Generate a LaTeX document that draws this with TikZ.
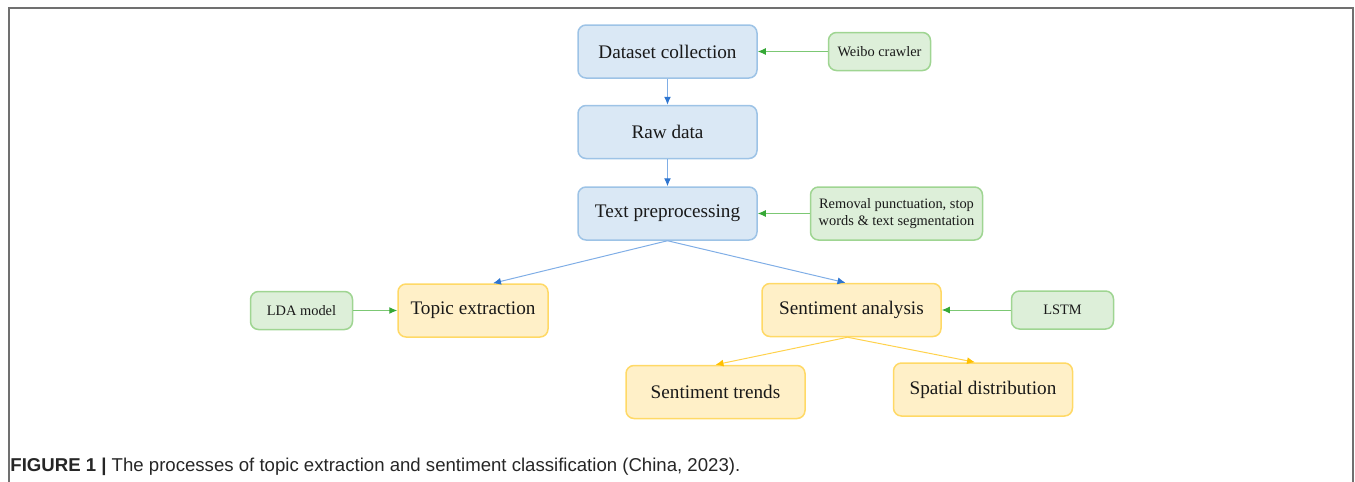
\documentclass[tikz,border=0pt]{standalone}
\usepackage{fontspec}
\setmainfont{Liberation Serif}
\newfontfamily\capfont{Liberation Sans}
\usetikzlibrary{positioning,arrows.meta}

\definecolor{bluefill}{HTML}{DAE8F5}
\definecolor{blueline}{HTML}{9DC3E6}
\definecolor{bluearrow}{HTML}{2E75D0}
\definecolor{bluelink}{HTML}{80AEE6}
\definecolor{greenfill}{HTML}{DDEFD9}
\definecolor{greenline}{HTML}{9FD592}
\definecolor{greenarrow}{HTML}{36A836}
\definecolor{greenlink}{HTML}{7CC874}
\definecolor{yellowfill}{HTML}{FFF0C8}
\definecolor{yellowline}{HTML}{FFD966}
\definecolor{yellowarrow}{HTML}{FFC000}
\definecolor{yellowlink}{HTML}{FFD24D}
\definecolor{framegray}{HTML}{707070}

\begin{document}
\begin{tikzpicture}[
    x=0.5pt, y=-0.5pt,
    stepblue/.style={rectangle, rounded corners=4pt, draw=blueline, line width=0.75pt, fill=bluefill, minimum width=89.5pt, minimum height=26.5pt, align=center, font=\fontsize{9.6}{11}\selectfont, text=black!90},
    tool/.style={rectangle, rounded corners=4pt, draw=greenline, line width=0.75pt, fill=greenfill, minimum width=51pt, minimum height=19pt, align=center, font=\fontsize{7.2}{8.6}\selectfont, text=black!90},
    result/.style={rectangle, rounded corners=4pt, draw=yellowline, line width=0.75pt, fill=yellowfill, minimum width=89.5pt, minimum height=26.5pt, align=center, font=\fontsize{9.6}{11}\selectfont, text=black!90},
    bluearr/.style={-{Latex[length=4pt,width=3.5pt,color=bluearrow]}, draw=bluelink, line width=0.5pt},
    greenarr/.style={-{Latex[length=4pt,width=3.5pt,color=greenarrow]}, draw=greenlink, line width=0.5pt},
    yellowarr/.style={-{Latex[length=4pt,width=3.5pt,color=yellowarrow]}, draw=yellowlink, line width=0.5pt},
    node distance=13pt
]
\useasboundingbox (0,0) rectangle (1355,482);

% frame
\draw[framegray, line width=0.75pt] (9,482) |- (1353,8) -- (1353,482);

% main column
\node[stepblue] (dataset) at (667.5,51.5) {Dataset collection};
\node[stepblue, below=of dataset] (raw) {Raw data};
\node[stepblue, below=13.5pt of raw] (prep) {Text preprocessing};
\node[tool, right=35pt of dataset] (weibo) {Weibo crawler};
\node[tool, right=26pt of prep, minimum width=86pt, minimum height=26.5pt] (removal) {Removal punctuation, stop\\words \& text segmentation};

% branches
\node[result, minimum width=75pt] (topic) at (473,310.5) {Topic extraction};
\node[tool, left=22pt of topic] (lda) {LDA model};
\node[result] (senti) at (851.5,310) {Sentiment analysis};
\node[tool, right=34.5pt of senti] (lstm) {LSTM};
\node[result] (trends) at (715.5,392) {Sentiment trends};
\node[result] (spatial) at (983,389.5) {Spatial distribution};

% connectors
\draw[greenarr] (weibo) -- (dataset);
\draw[bluearr] (dataset) -- (raw);
\draw[bluearr] (raw) -- (prep);
\draw[greenarr] (removal) -- (prep);
\draw[bluearr] (prep.south) -- ([xshift=10pt]topic.north);
\draw[bluearr] (prep.south) -- ([xshift=-3pt]senti.north);
\draw[greenarr] (lda) -- (topic);
\draw[greenarr] (lstm) -- (senti);
\draw[yellowarr] ([xshift=-2pt]senti.south) -- (trends.north);
\draw[yellowarr] ([xshift=-2pt]senti.south) -- ([xshift=-4pt]spatial.north);

% caption
\node[anchor=base west, inner sep=0pt, font=\capfont\fontsize{9.3}{11}\selectfont, text=black!85] (caption) at (10,471)
  {\textbf{FIGURE 1 |} The processes of topic extraction and sentiment classification (China, 2023).};
\end{tikzpicture}
\end{document}
